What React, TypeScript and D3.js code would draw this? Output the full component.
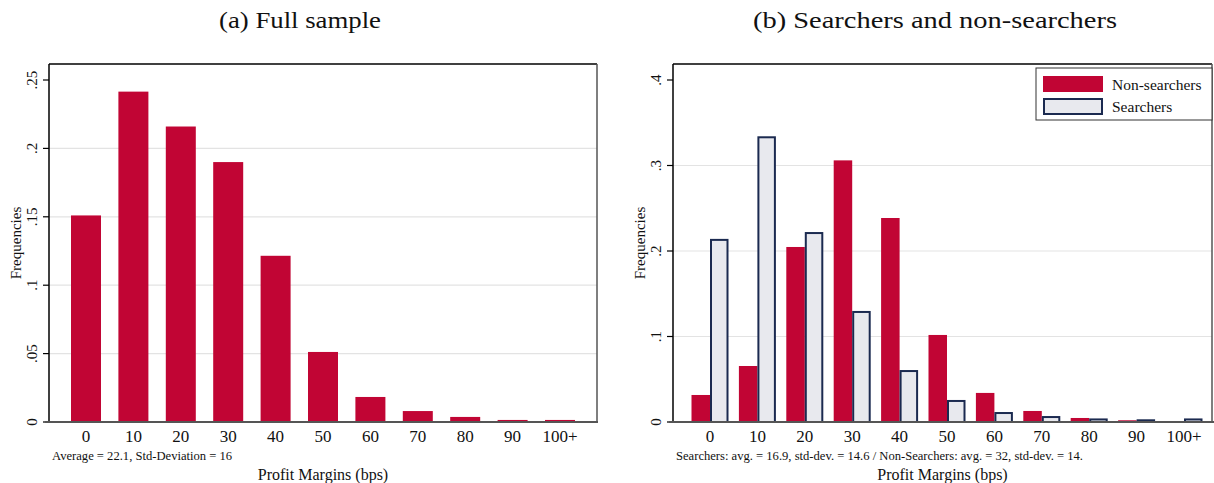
import { useEffect, useRef } from "react";
import * as d3 from "d3";

const categories = ["0", "10", "20", "30", "40", "50", "60", "70", "80", "90", "100+"];
const fullSample = [0.151, 0.2415, 0.216, 0.19, 0.1215, 0.0512, 0.0183, 0.008, 0.0037, 0.0015, 0.0015];
const nonSearchers = [0.0316, 0.0655, 0.2047, 0.306, 0.2386, 0.1018, 0.034, 0.0129, 0.0047, 0.002, 0.001];
const searchers = [0.213, 0.333, 0.221, 0.1287, 0.0596, 0.0246, 0.0105, 0.0058, 0.003, 0.002, 0.003];
const leftTicks = [0, 0.05, 0.1, 0.15, 0.2, 0.25];
const rightTicks = [0, 0.1, 0.2, 0.3, 0.4];

const RED = "#c10534";
const LIGHT = "#e8e9ee";
const NAVY = "#1b2a50";
const FONT = "'Liberation Serif', 'DejaVu Serif', serif";

const fmt = (v: number) => (v === 0 ? "0" : String(v).replace(/^0/, ""));

export default function App() {
  const svgRef = useRef<SVGSVGElement | null>(null);

  useEffect(() => {
    const svg = d3.select(svgRef.current);
    svg.selectAll("*").remove();
    svg.style("font-family", FONT);

    const panel = (opts: {
      left: number;
      right: number;
      top: number;
      bottom: number;
      yMax: number;
      yTopVal: number;
      ticks: number[];
      centers: [number, number];
      title: string;
      titleX: number;
      titleW: number;
      note: string;
    }) => {
      const g = svg.append("g");
      const y = d3
        .scaleLinear()
        .domain([0, opts.yTopVal])
        .range([opts.bottom, opts.yMax]);
      const x = d3.scalePoint<string>().domain(categories).range(opts.centers);

      // gridlines
      g.selectAll("line.grid")
        .data(opts.ticks.filter((t) => t > 0 && y(t) > opts.top + 20))
        .join("line")
        .attr("x1", opts.left)
        .attr("x2", opts.right)
        .attr("y1", (d) => y(d))
        .attr("y2", (d) => y(d))
        .attr("stroke", "#e3e3e3")
        .attr("stroke-width", 1.2);

      // frame
      g.append("line")
        .attr("x1", opts.left).attr("x2", opts.right)
        .attr("y1", opts.top).attr("y2", opts.top)
        .attr("stroke", "#000").attr("stroke-width", 1.5);
      g.append("line")
        .attr("x1", opts.right).attr("x2", opts.right)
        .attr("y1", opts.top).attr("y2", opts.bottom)
        .attr("stroke", "#555").attr("stroke-width", 1.5);
      g.append("line")
        .attr("x1", opts.left).attr("x2", opts.left)
        .attr("y1", opts.top).attr("y2", opts.bottom)
        .attr("stroke", "#000").attr("stroke-width", 1.5);

      // y ticks
      g.selectAll("line.tick")
        .data(opts.ticks)
        .join("line")
        .attr("x1", opts.left - 6)
        .attr("x2", opts.left)
        .attr("y1", (d) => y(d))
        .attr("y2", (d) => y(d))
        .attr("stroke", "#000")
        .attr("stroke-width", 1.2);
      g.selectAll("text.ytick")
        .data(opts.ticks)
        .join("text")
        .attr("transform", (d) => `translate(${opts.left - 12},${y(d)}) rotate(-90)`)
        .attr("text-anchor", "middle")
        .attr("font-size", 15)
        .attr("fill", "#111")
        .text((d) => fmt(d));

      g.append("text")
        .attr("transform", `translate(${opts.left - 28},${(opts.top + opts.bottom) / 2}) rotate(-90)`)
        .attr("text-anchor", "middle")
        .attr("font-size", 15)
        .attr("fill", "#111")
        .text("Frequencies");

      // x labels
      g.selectAll("text.xtick")
        .data(categories)
        .join("text")
        .attr("x", (d) => x(d)!)
        .attr("y", opts.bottom + 20)
        .attr("text-anchor", "middle")
        .attr("font-size", 17)
        .attr("fill", "#111")
        .text((d) => d);

      g.append("text")
        .attr("x", opts.left + 3)
        .attr("y", opts.bottom + 38)
        .attr("font-size", 12.6)
        .attr("fill", "#111")
        .text(opts.note);

      g.append("text")
        .attr("x", (opts.left + opts.right) / 2)
        .attr("y", opts.bottom + 58)
        .attr("text-anchor", "middle")
        .attr("font-size", 16)
        .attr("fill", "#111")
        .text("Profit Margins (bps)");

      svg.append("text")
        .attr("x", opts.titleX - opts.titleW / 2)
        .attr("y", 28)
        .attr("font-size", 24)
        .attr("textLength", opts.titleW)
        .attr("lengthAdjust", "spacingAndGlyphs")
        .attr("fill", "#111")
        .text(opts.title);

      return { g, x, y };
    };

    // Panel (a)
    const a = panel({
      left: 49,
      right: 597,
      top: 64,
      bottom: 422,
      yMax: 80,
      yTopVal: 0.25,
      ticks: leftTicks,
      centers: [86, 560],
      title: "(a) Full sample",
      titleX: 300,
      titleW: 162,
      note: "Average = 22.1, Std-Deviation = 16",
    });
    a.g.selectAll("rect.bar")
      .data(fullSample)
      .join("rect")
      .attr("x", (_, i) => a.x(categories[i])! - 15)
      .attr("width", 30)
      .attr("y", (d) => a.y(d))
      .attr("height", (d) => a.y(0) - a.y(d))
      .attr("fill", RED);
    a.g.append("line")
      .attr("x1", 45).attr("x2", 598)
      .attr("y1", 422).attr("y2", 422)
      .attr("stroke", "#555").attr("stroke-width", 2);

    // Panel (b)
    const b = panel({
      left: 673,
      right: 1212,
      top: 64,
      bottom: 422,
      yMax: 80,
      yTopVal: 0.4,
      ticks: rightTicks,
      centers: [710, 1184],
      title: "(b) Searchers and non-searchers",
      titleX: 935,
      titleW: 364,
      note: "Searchers: avg. = 16.9, std-dev. = 14.6 / Non-Searchers: avg. = 32, std-dev. = 14.",
    });
    const bw = 18.5;
    b.g.selectAll("rect.ns")
      .data(nonSearchers)
      .join("rect")
      .attr("x", (_, i) => b.x(categories[i])! - bw)
      .attr("width", bw)
      .attr("y", (d) => b.y(d))
      .attr("height", (d) => b.y(0) - b.y(d))
      .attr("fill", RED);
    b.g.selectAll("rect.s")
      .data(searchers)
      .join("rect")
      .attr("x", (_, i) => b.x(categories[i])! + 1)
      .attr("width", bw - 2)
      .attr("y", (d) => b.y(d))
      .attr("height", (d) => b.y(0) - b.y(d))
      .attr("fill", LIGHT)
      .attr("stroke", NAVY)
      .attr("stroke-width", 2);
    b.g.append("line")
      .attr("x1", 669).attr("x2", 1214)
      .attr("y1", 422).attr("y2", 422)
      .attr("stroke", "#555").attr("stroke-width", 2);

    // legend
    const lg = b.g.append("g");
    lg.append("rect")
      .attr("x", 1036).attr("y", 68).attr("width", 176).attr("height", 52)
      .attr("fill", "#fff").attr("stroke", "#333").attr("stroke-width", 1);
    lg.append("rect")
      .attr("x", 1043).attr("y", 76).attr("width", 60).attr("height", 16)
      .attr("fill", RED);
    lg.append("rect")
      .attr("x", 1044).attr("y", 99).attr("width", 58).attr("height", 15)
      .attr("fill", LIGHT).attr("stroke", NAVY).attr("stroke-width", 2);
    lg.append("text")
      .attr("x", 1112).attr("y", 90).attr("font-size", 15.5).attr("fill", "#111")
      .text("Non-searchers");
    lg.append("text")
      .attr("x", 1112).attr("y", 112).attr("font-size", 15.5).attr("fill", "#111")
      .text("Searchers");
  }, []);

  return (
    <svg
      ref={svgRef}
      width={1214}
      height={483}
      style={{ position: "absolute", left: 0, top: 0, background: "#fff" }}
    />
  );
}
